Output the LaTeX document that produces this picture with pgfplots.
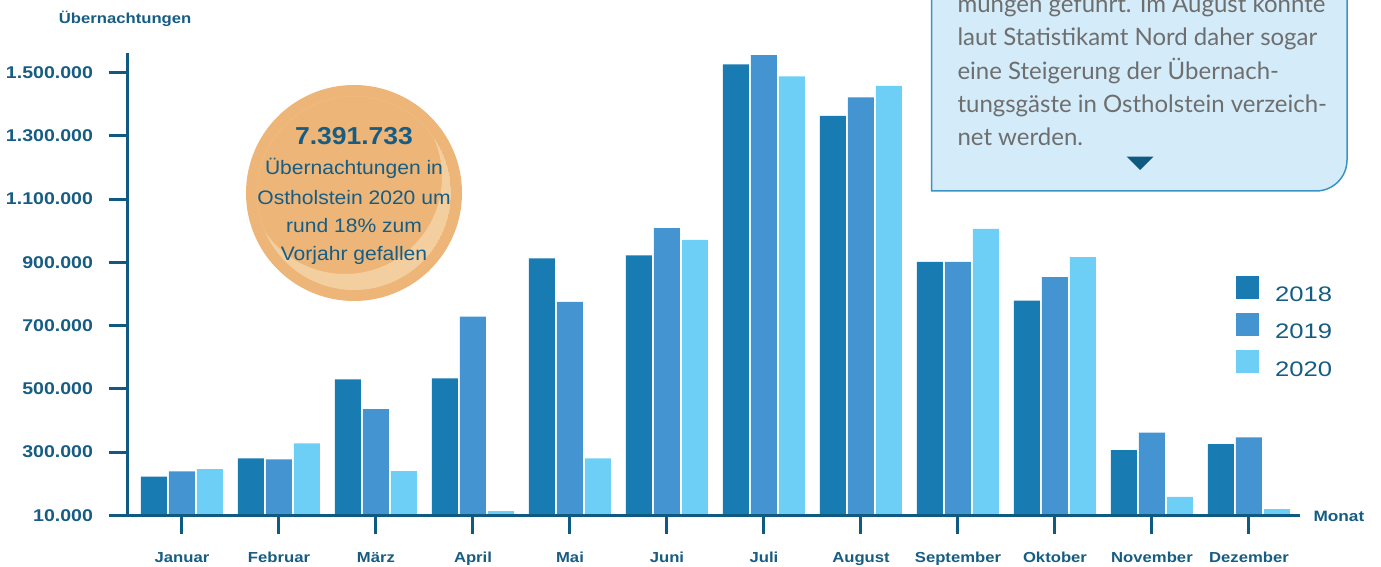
\documentclass[border=0pt]{standalone}
\usepackage{pgfplots}
\usepackage{pgfplotstable}
\pgfplotsset{compat=1.18}
\usepackage{fontspec}
\setmainfont{Liberation Sans}
\newfontfamily\labfont[FakeStretch=1.15]{Liberation Sans}
\newfontfamily\legfont[FakeStretch=1.22]{Liberation Sans}
\newfontfamily\circfont[FakeStretch=1.08]{Liberation Sans}
\newfontfamily\boxfont{Lato}
\definecolor{c18}{HTML}{187BB2}
\definecolor{c19}{HTML}{4494D1}
\definecolor{c20}{HTML}{6DCFF6}
\definecolor{axc}{HTML}{0F5A80}
\definecolor{txc}{HTML}{165C83}
\definecolor{circ}{HTML}{EDB678}
\definecolor{circhl}{HTML}{F3CFA0}
\definecolor{boxfill}{HTML}{D4ECFA}
\definecolor{boxdraw}{HTML}{3A93C3}
\definecolor{boxtxt}{HTML}{6E6E6E}
\pgfplotsset{sqlegend/.style={legend image code/.code={\fill[##1] (0pt,-3.8pt) rectangle (23pt,19.2pt);}}}

\pgfplotstableread{
x y
0 222100
1 280300
2 530200
3 533300
4 912900
5 922400
6 1526500
7 1363000
8 901200
9 778800
10 306500
11 325500
}\dataA
\pgfplotstableread{
x y
0 239200
1 277100
2 436200
3 728200
4 774700
5 1008700
6 1555900
7 1422100
8 901200
9 853700
10 361300
11 346700
}\dataB
\pgfplotstableread{
x y
0 246400
1 327700
2 240100
3 113600
4 280300
5 970800
6 1488600
7 1457900
8 1005600
9 917000
10 157900
11 119900
}\dataC

\begin{document}
\begin{tikzpicture}[x=1pt,y=1pt]
\useasboundingbox (0,0) rectangle (1381,566);
\clip (0,0) rectangle (1381,566);
% text box
\filldraw[fill=boxfill, draw=boxdraw, line width=1.5pt] (931.7,620) -- (931.7,375) -- (1316,375) arc[start angle=270, end angle=360, radius=31] -- (1347,620);
\begin{scope}[every node/.style={anchor=base west, inner sep=0pt, text=boxtxt, font=\boxfont\fontsize{24pt}{24pt}\selectfont}]
\node at (957.3,553.7) {mungen geführt. Im August konnte};
\node at (957.3,520.3) {laut Statistikamt Nord daher sogar};
\node at (957.3,486.9) {eine Steigerung der Übernach-};
\node at (957.3,453.5) {tungsgäste in Ostholstein verzeich-};
\node at (957.3,420.1) {net werden.};
\end{scope}
\fill[axc] (1126.7,409.3) -- (1153.3,409.3) -- (1140,396) -- cycle;
% circle
\fill[circ] (354,373) circle (108);
\begin{scope}
\clip (354,373) circle (97);
\fill[circhl, even odd rule] (354,373) circle (97) (345,389) circle (97);
\end{scope}
\begin{scope}[every node/.style={anchor=base, inner sep=0pt, text=txc}]
\node[font=\circfont\fontsize{24.5pt}{24.5pt}\selectfont\bfseries] at (354,421.7) {7.391.733};
\node[font=\circfont\fontsize{19.5pt}{19.5pt}\selectfont] at (354,391.7) {Übernachtungen in};
\node[font=\circfont\fontsize{19.5pt}{19.5pt}\selectfont] at (354,362) {Ostholstein 2020 um};
\node[font=\circfont\fontsize{19.5pt}{19.5pt}\selectfont] at (354,333.5) {rund 18\% zum};
\node[font=\circfont\fontsize{19.5pt}{19.5pt}\selectfont] at (354,306) {Vorjahr gefallen};
\end{scope}
% labels
\node[anchor=base west, inner sep=0pt, text=txc, font=\labfont\fontsize{14.5pt}{14.5pt}\selectfont\bfseries] at (58.7,542) {Übernachtungen};
\node[anchor=base west, inner sep=0pt, text=txc, font=\labfont\fontsize{15pt}{15pt}\selectfont\bfseries] at (1313.3,44.3) {Monat};
\begin{axis}[
  scale only axis, width=1173pt, height=462.6pt,
  at={(127pt,50.7pt)}, anchor=south west,
  xmin=-0.567, xmax=11.526, ymin=100000, ymax=1563200,
  axis x line=bottom, axis y line=left,
  axis line style={-, line width=3pt, color=axc},
  axis on top,
  tick align=outside,
  major tick length=18.5pt,
  tick style={line width=3pt, color=axc},
  xtick={0,1,2,3,4,5,6,7,8,9,10,11},
  xticklabels={Januar,Februar,März,April,Mai,Juni,Juli,August,September,Oktober,November,Dezember},
  ytick={100000,300000,500000,700000,900000,1100000,1300000,1500000},
  yticklabels={10.000,300.000,500.000,700.000,900.000,1.100.000,1.300.000,1.500.000},
  scaled y ticks=false,
  minor tick num=0,
  xticklabel style={font=\labfont\fontsize{14.5pt}{14.5pt}\selectfont\bfseries, text=txc, yshift=-15pt},
  yticklabel style={font=\labfont\fontsize{17pt}{17pt}\selectfont\bfseries, text=txc, xshift=-12pt},
  ybar=2pt, bar width=26pt,
  legend style={at={(0.9454,0.518)}, anchor=north west, draw=none, fill=none, inner sep=0pt,
    row sep=10pt, column sep=16pt,
    nodes={inner sep=0pt, text=txc, font=\legfont\fontsize{21pt}{21pt}\selectfont}},
  legend cell align=left,
]
\addplot[fill=c18, draw=none, sqlegend] table[x=x,y=y]{\dataA};
\addplot[fill=c19, draw=none, sqlegend] table[x=x,y=y]{\dataB};
\addplot[fill=c20, draw=none, sqlegend] table[x=x,y=y]{\dataC};
\legend{2018,2019,2020}
\end{axis}
\end{tikzpicture}
\end{document}
